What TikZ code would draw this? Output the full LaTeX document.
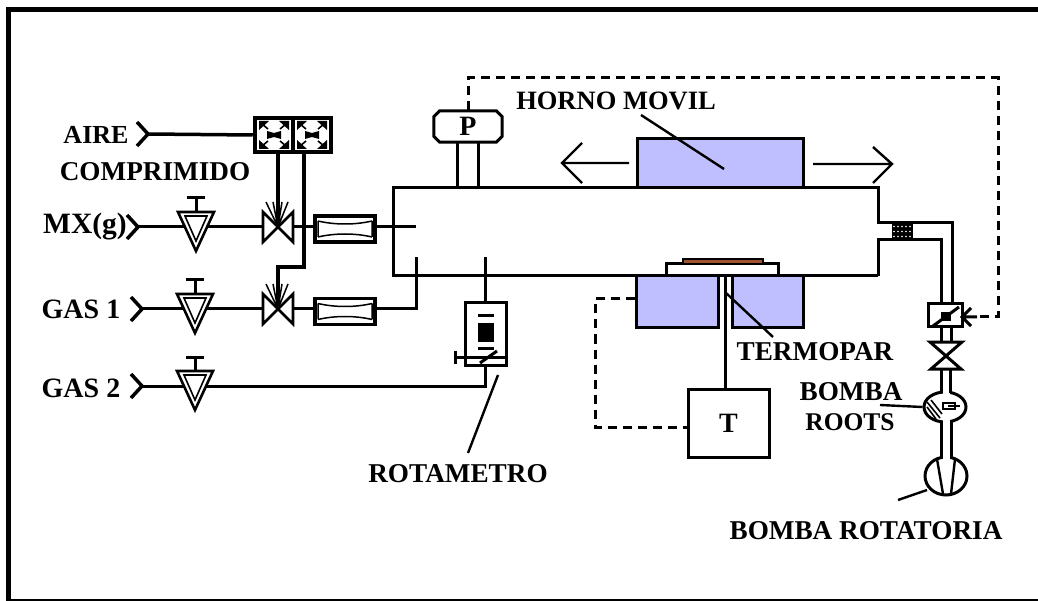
\documentclass[tikz,border=0pt]{standalone}
\usepackage{fontspec}
\setmainfont{Liberation Serif}
\usetikzlibrary{calc,shapes.geometric}
\definecolor{furn}{HTML}{BFBFFF}
\definecolor{sample}{HTML}{A0522D}
\tikzset{
  lbl/.style={inner sep=0pt,font=\bfseries\fontsize{27.2}{27}\selectfont},
  lblin/.style={inner sep=0pt,font=\bfseries\fontsize{28}{28}\selectfont},
  box/.style={draw,line width=3pt,inner sep=0pt,fill=white},
  oven/.style={draw,line width=3pt,fill=furn,inner sep=0pt},
  pipe/.style={line width=3pt},
  ctl/.style={line width=4.5pt},
  dashline/.style={line width=3pt,dash pattern=on 9pt off 6pt},
  leader/.style={line width=2.4pt},
  chev/.style={line width=3.5pt,line join=miter},
  pump/.style={draw,line width=3pt,fill=white,ellipse,inner sep=0pt},
  regulator/.pic={
    \draw[line width=2.6pt,fill=white] (-18,-16) -- (18,-16) -- (0,23) -- cycle;
    \draw[line width=1.6pt] (-11,-12) -- (11,-12) -- (0,13) -- cycle;
    \draw[pipe] (0,-16) -- (0,-30) (-9,-30) -- (9,-30);
  },
  bowtie/.pic={
    \draw[line width=2.6pt,fill=white] (-15,-15) -- (15,15) -- (15,-15) -- (-15,15) -- cycle;
    \draw[line width=1.5pt] (0,0) -- (-12,-25) (0,0) -- (10,-25) (0,0) -- (-5,-25) (0,0) -- (4,-25);
  },
  filterbox/.pic={
    \draw[line width=3.5pt,fill=white] (-30,-13) rectangle (30,13);
    \draw[line width=1.5pt] (-27,-8) .. controls (-10,-4) and (10,-4) .. (27,-8)
       (-27,8) .. controls (-10,4) and (10,4) .. (27,8) (-27,-8) -- (-27,8) (27,-8) -- (27,8);
  },
  ctlcell/.pic={
    \fill (-7,-4) -- (0,-2) -- (7,-4) -- (7,4) -- (0,2) -- (-7,4) -- cycle;
    \foreach \sx in {-1,1}\foreach \sy in {-1,1}{
      \fill ({\sx*15},{\sy*14}) -- ({\sx*5},{\sy*14}) -- ({\sx*15},{\sy*5}) -- cycle;
      \draw[line width=1.6pt] ({\sx*12},{\sy*11}) -- ({\sx*6},{\sy*6});
    }
  },
}
\begin{document}
\begin{tikzpicture}[x=1pt,y=-1pt]
\useasboundingbox (0,0) rectangle (1038,601);
% frame
\fill (6,7) rectangle (1038,12);
\fill (6,7) rectangle (11,601);
\fill (6,599) rectangle (1038,601);

% furnace tube
\coordinate (tubeTL) at (393,188);
\coordinate (tubeTR) at (878,188);
\coordinate (tubeBL) at (393,276);
\coordinate (tubeBR) at (878,276);
\coordinate (neckTop) at (878,223);
\coordinate (neckBot) at (878,240);
\coordinate (pumpTop) at (952,223);
\coordinate (pumpBot) at (941,240);
\node[box,minimum width=34pt,minimum height=23pt] (gate) at (945,315.5) {};
\draw[pipe] (tubeBR) -- (tubeBL) -- (tubeTL) -- (tubeTR) -- (neckTop) -- (pumpTop) -- (952,304);
\draw[pipe] (tubeBR) -- (neckBot) -- (pumpBot) -- (941,304);

% ovens
\node[oven,minimum width=166pt,minimum height=49pt] (ovenTop) at (720,163.5) {};
\node[oven,minimum width=82pt,minimum height=52pt] (ovenL) at (677,302) {};
\node[oven,minimum width=71pt,minimum height=52pt] (ovenR) at (767.5,302) {};
\node[box,minimum width=112pt,minimum height=12pt] (holder) at (722,270) {};
\node[draw,line width=1.8pt,fill=sample,minimum width=80pt,minimum height=5pt,inner sep=0pt] (samp) at (723,261.5) {};

% T controller
\node[box,minimum width=81pt,minimum height=68pt] (tc) at (728.5,423) {\bfseries\fontsize{28}{28}\selectfont T};
\coordinate (tcIn) at (725,276);
\draw[pipe] (tcIn) -- (tcIn |- tc.north);
\draw[dashline] (ovenL.west |- 0,299) -- (595,299) -- (595,427) -- (tc.west |- 0,427);

% pressure gauge
\node[inner sep=0pt,minimum width=68pt,minimum height=31pt] (pg) at (468,126.5) {\bfseries\fontsize{28}{28}\selectfont P};
\draw[pipe] ($(pg.north west)+(6,0)$) -- ($(pg.north east)+(-6,0)$) -- ++(6,6) -- ($(pg.south east)+(0,-6)$) -- ++(-6,6) -- ($(pg.south west)+(6,0)$) -- ++(-6,-6) -- ($(pg.north west)+(0,6)$) -- cycle;
\draw[pipe] (457,142) -- (457,188) (478,142) -- (478,188);
\coordinate (gateIn) at (962,317);
\draw[dashline] (468,110) -- (468,78) -- (998,78) -- (998,317) -- (977,317);

% oven arrows
\coordinate (arrL) at (562,163);
\coordinate (arrR) at (892,164);
\draw[line width=2.4pt] (629,163) -- (arrL) (582,143) -- (arrL) -- (582,183);
\draw[line width=2.4pt] (813,164) -- (arrR) (873,147) -- (arrR) -- (873,183);

% control block
\node[draw,ctl,minimum width=38pt,minimum height=34pt,inner sep=0pt,fill=white] (c1) at (274,135) {};
\node[draw,ctl,minimum width=38pt,minimum height=34pt,inner sep=0pt,fill=white] (c2) at (312,135) {};
\pic at (c1) {ctlcell};
\pic at (c2) {ctlcell};

% inlet chevrons
\coordinate (inAir) at (148,134);
\coordinate (inMX) at (138,227);
\coordinate (inG1) at (142,309);
\coordinate (inG2) at (142,386);
\foreach \c in {inAir,inMX,inG1,inG2}{
  \draw[chev] ($(\c)+(-11,-12)$) -- (\c) -- ($(\c)+(-11,12)$);
}
\draw[line width=3.5pt] (inAir) -- (c1.west);

% lines
\coordinate (vMX) at (278,227);
\coordinate (vG1) at (278,309);
\coordinate (fMX) at (345,229);
\coordinate (fG1) at (345,311.5);
\draw[pipe] (inMX) -- (vMX) -- (416,227);
\draw[pipe] (inG1) -- (vG1) -- (416,309) -- (416,257);
\draw[pipe] (inG2) -- (485,386) -- (485,365);

% regulators, valves, filters
\pic at (196,228) {regulator};
\pic at (195,310) {regulator};
\pic at (195,387) {regulator};
\pic at (vMX) {bowtie};
\pic at (vG1) {bowtie};
\pic at (fMX) {filterbox};
\pic at (fG1) {filterbox};
\draw[line width=4pt] (278,152) -- (vMX);
\draw[line width=4pt] (304,152) -- (304,267) -- (278,267) -- (vG1);

% rotameter
\node[box,minimum width=41pt,minimum height=62pt] (rot) at (485.5,334) {};
\draw[pipe] (485,257) -- (485,303);
\fill (478,323) rectangle (494,342);
\draw[pipe] (478,316) -- (494,316) (478,348) -- (494,348);
\draw[pipe] (455,357) -- (506,357) (455,351) -- (455,364);
\draw[pipe] (480,363) -- (497,351);

% coupling
\node[fill=black,minimum width=21pt,minimum height=16pt,inner sep=0pt] (coup) at (902.5,231.5) {};
\foreach \x in {894,898,902,906,910}\foreach \y in {226.5,231.5,236.5}{
  \fill[white] (\x,\y) circle (0.9pt);
}

% gate valve
\fill (941,312) rectangle (951,321);
\draw[pipe] (933,326) -- (959,307);
\draw[pipe] (971,308) -- (gateIn) -- (971,326) (gateIn) -- (977,317);

% vertical valve and pipes
\draw[pipe] (941,327) -- (941,342) (951,327) -- (951,342);
\draw[pipe,line join=miter] (930,342) -- (962,342) -- (931,369) -- (961,369) -- cycle;

% pumps
\node[pump,minimum width=42pt,minimum height=30pt] (roots) at (945,407) {};
\node[pump,minimum width=42pt,minimum height=38pt] (rotary) at (946,476) {};
\fill[white] (942.5,388) rectangle (949.5,396);
\fill[white] (942.5,415) rectangle (949.5,464);
\draw[pipe] (941,369) -- (941,393) (950,369) -- (950,393);
\draw[pipe] (941,421) -- (941,459) (951,421) -- (951,459);
\draw[line width=2.4pt] (937,459) -- (943,494) (955,459) -- (951,494);
\draw[line width=1.6pt] (927,402) -- (940,418) (931,400) -- (942,414) (927,407) -- (936,419);
\draw[line width=1.6pt] (943,403) rectangle (955,409);
\draw[line width=1.6pt] (948,406) -- (960,406);

% labels and leaders
\node[inner sep=0pt,font=\bfseries\fontsize{26}{26}\selectfont] (air) at (96,135) {AIRE};
\node[lbl] (comp) at (155,172) {COMPRIMIDO};
\node[inner sep=0pt,font=\bfseries\fontsize{29.5}{29}\selectfont] (mx) at (85,227) {MX(g)};
\node[lblin] (g1) at (81,309) {GAS 1};
\node[lblin] (g2) at (81,388) {GAS 2};
\node[inner sep=0pt,font=\bfseries\fontsize{26.5}{26}\selectfont] (horno) at (616,101) {HORNO MOVIL};
\node[lbl] (rotl) at (458,474) {ROTAMETRO};
\node[lbl] (term) at (815,352) {TERMOPAR};
\node[lbl] (broots) at (851,392) {BOMBA};
\node[inner sep=0pt,font=\bfseries\fontsize{25.5}{26}\selectfont] (broots2) at (850,422) {ROOTS};
\node[lbl] (brot) at (866,531) {BOMBA ROTATORIA};
\coordinate (hLead) at (641,115);
\coordinate (tLead) at (773,337);
\coordinate (rLead) at (468,453);
\coordinate (bLead) at (880,405);
\coordinate (cLead) at (898,500);
\draw[leader] (hLead) -- (724,169);
\draw[leader] (tLead) -- (726,293);
\draw[leader] (rLead) -- (498,375);
\draw[leader] (bLead) -- (roots.west);
\draw[leader] (cLead) -- (927,490);
\end{tikzpicture}
\end{document}
